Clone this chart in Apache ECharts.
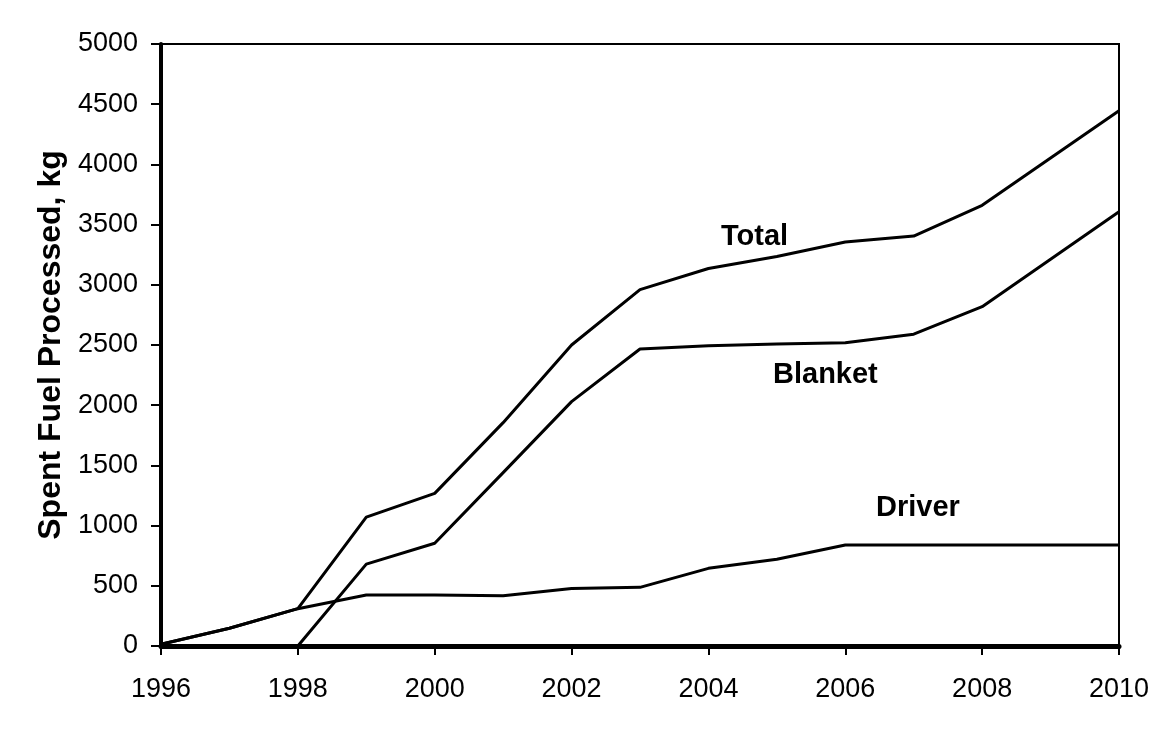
<!DOCTYPE html>
<html>
<head>
<meta charset="utf-8">
<script src="https://cdn.jsdelivr.net/npm/echarts@6/dist/echarts.min.js"></script>
<style>html,body{margin:0;padding:0;background:#fff;}#c{width:1162px;height:729px;}</style>
</head>
<body>
<div id="c"></div>
<script>
const years   = [1996, 1997, 1998, 1999, 2000, 2001, 2002, 2003, 2004, 2005, 2006, 2007, 2008, 2009, 2010];
const total   = [15, 147, 310, 1070, 1268, 1855, 2500, 2960, 3135, 3235, 3355, 3405, 3660, null, 4445];
const blanket = [null, null, 0, 680, 853, 1440, 2030, 2467, 2494, 2508, 2519, 2590, 2818, null, 3607];
const driver  = [15, 147, 310, 424, 424, 418, 478, 487, 645, 720, 839, 839, 839, 839, 839];
const yTicks  = [0, 500, 1000, 1500, 2000, 2500, 3000, 3500, 4000, 4500, 5000];
const xTicks  = [1996, 1998, 2000, 2002, 2004, 2006, 2008, 2010];
const seriesNames = ['Total', 'Blanket', 'Driver'];

const pairs = arr => years.map((y, i) => [y, arr[i]]);
const FONT = '"Liberation Sans", Arial, sans-serif';

const chart = echarts.init(document.getElementById('c'), null, {renderer: 'canvas'});
const lineStyle = {color: '#000', width: 3};
chart.setOption({
  animation: false,
  backgroundColor: '#fff',
  grid: {left: 161, right: 43, top: 44, bottom: 83, show: true, borderColor: '#000', borderWidth: 2, backgroundColor: 'transparent'},
  xAxis: {
    type: 'value', min: xTicks[0], max: xTicks[xTicks.length - 1], interval: 2,
    axisLine: {show: true, lineStyle: {color: '#000', width: 5}},
    axisTick: {show: true, length: 9, lineStyle: {color: '#000', width: 2}},
    splitLine: {show: false},
    axisLabel: {color: '#000', fontSize: 27, fontFamily: FONT, margin: 30, formatter: v => String(v)}
  },
  yAxis: {
    type: 'value', min: yTicks[0], max: yTicks[yTicks.length - 1], interval: 500,
    name: 'Spent Fuel Processed, kg', nameLocation: 'middle', nameGap: 91,
    nameTextStyle: {color: '#000', fontSize: 32, fontWeight: 'bold', fontFamily: FONT},
    axisLine: {show: true, lineStyle: {color: '#000', width: 4}},
    axisTick: {show: true, length: 10, lineStyle: {color: '#000', width: 2}},
    splitLine: {show: false},
    axisLabel: {color: '#000', fontSize: 27, fontFamily: FONT, margin: 23, formatter: v => String(v)}
  },
  series: [
    {name: seriesNames[0], type: 'line', data: pairs(total), showSymbol: false, connectNulls: true, lineStyle: lineStyle},
    {name: seriesNames[1], type: 'line', data: pairs(blanket), showSymbol: false, connectNulls: true, lineStyle: lineStyle},
    {name: seriesNames[2], type: 'line', data: pairs(driver), showSymbol: false, connectNulls: true, lineStyle: lineStyle}
  ],
  graphic: [
    {type: 'text', left: 721, top: 222, style: {text: seriesNames[0], fill: '#000', font: 'bold 29px ' + FONT}},
    {type: 'text', left: 773, top: 360, style: {text: seriesNames[1], fill: '#000', font: 'bold 29px ' + FONT}},
    {type: 'text', left: 876, top: 493, style: {text: seriesNames[2], fill: '#000', font: 'bold 29px ' + FONT}}
  ]
});
</script>
</body>
</html>
